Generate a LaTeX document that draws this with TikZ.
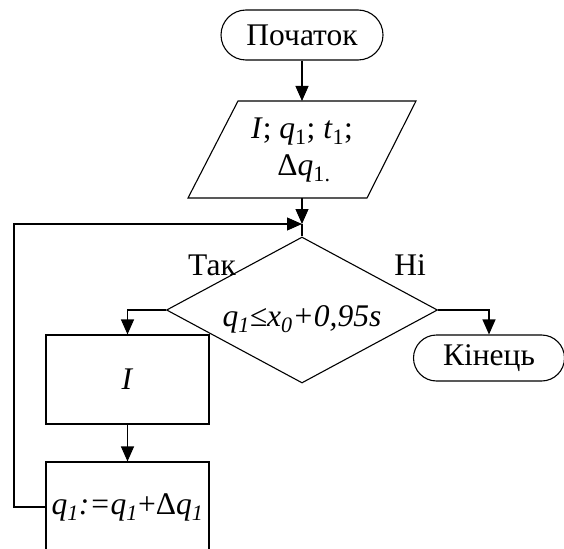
\documentclass[tikz,border=0pt]{standalone}
\usepackage{fontspec}
\setmainfont{Liberation Serif}
\usetikzlibrary{arrows.meta,shapes.geometric,shapes.misc}
\newcommand{\iq}[1]{\textit{#1}}
\begin{document}
\begin{tikzpicture}[x=1pt,y=-1pt,
  every node/.style={font=\fontsize{31.5}{36}\selectfont},
  term/.style={draw,rounded rectangle,inner sep=0pt,line width=1.1pt},
  proc/.style={draw,rectangle,inner sep=0pt,line width=1.1pt},
  dec/.style={draw,diamond,inner sep=0pt,line width=1.1pt,minimum width=271pt,minimum height=146pt},
  lbl/.style={inner sep=0pt},
  conn/.style={line width=1.1pt},
  arr/.style={line width=1.1pt,-{Triangle[length=15pt,width=13pt]}}]
\useasboundingbox (0,0) rectangle (564,548);
\clip (0,0) rectangle (564,548);
% start
\node[term,minimum width=162pt,minimum height=50pt] (start) at (302,35) {Початок};
% parallelogram input
\coordinate (pTL) at (238,101);
\coordinate (pTR) at (416,101);
\coordinate (pBR) at (367,198);
\coordinate (pBL) at (188,198);
\draw[conn] (pTL) -- (pTR) -- (pBR) -- (pBL) -- cycle;
\node[lbl,align=center,font=\fontsize{31.5}{37}\selectfont] (inp) at (302,150) {\iq{I}; \iq{q}\textsubscript{1}; \iq{t}\textsubscript{1};\\ \hspace*{4pt}Δ\iq{q}\textsubscript{1.}};
\coordinate (pTop) at (302,101);
\coordinate (pBot) at (302,198);
% junction
\coordinate (J) at (302,224);
% decision
\node[dec] (d) at (302,310) {};
\node[lbl] (dt) at (302,319) {\iq{q\textsubscript{1}≤x\textsubscript{0}+0,95s}};
% labels
\node[lbl] (yes) at (212,265) {Так};
\node[lbl] (no) at (410,265) {Ні};
% process boxes
\node[proc,minimum width=163pt,minimum height=89pt] (p1) at (127.5,379.5) {\iq{I}};
\node[proc,minimum width=163pt,minimum height=110pt] (p2) at (127.5,517) {};
\node[lbl] (p2t) at (127.5,507) {\iq{q\textsubscript{1}:=q\textsubscript{1}}+Δ\iq{q\textsubscript{1}}};
% end
\node[term,minimum width=151pt,minimum height=46pt] (end) at (489,358) {Кінець};
% connectors
\draw[arr] (start.south) -- (pTop);
\draw[arr] (pBot) -- (J);
\draw[conn] (J) -- (d.north);
\draw[arr] (d.west) -| (p1.north);
\draw[arr] (d.east) -| (end.north);
\draw[arr] (p1.south) -- (p2.north);
\coordinate (p2l) at (p2.west |- p2t);
\coordinate (lp) at (14,507);
\draw[arr] (p2l) -- (lp) |- (J);
\end{tikzpicture}
\end{document}
